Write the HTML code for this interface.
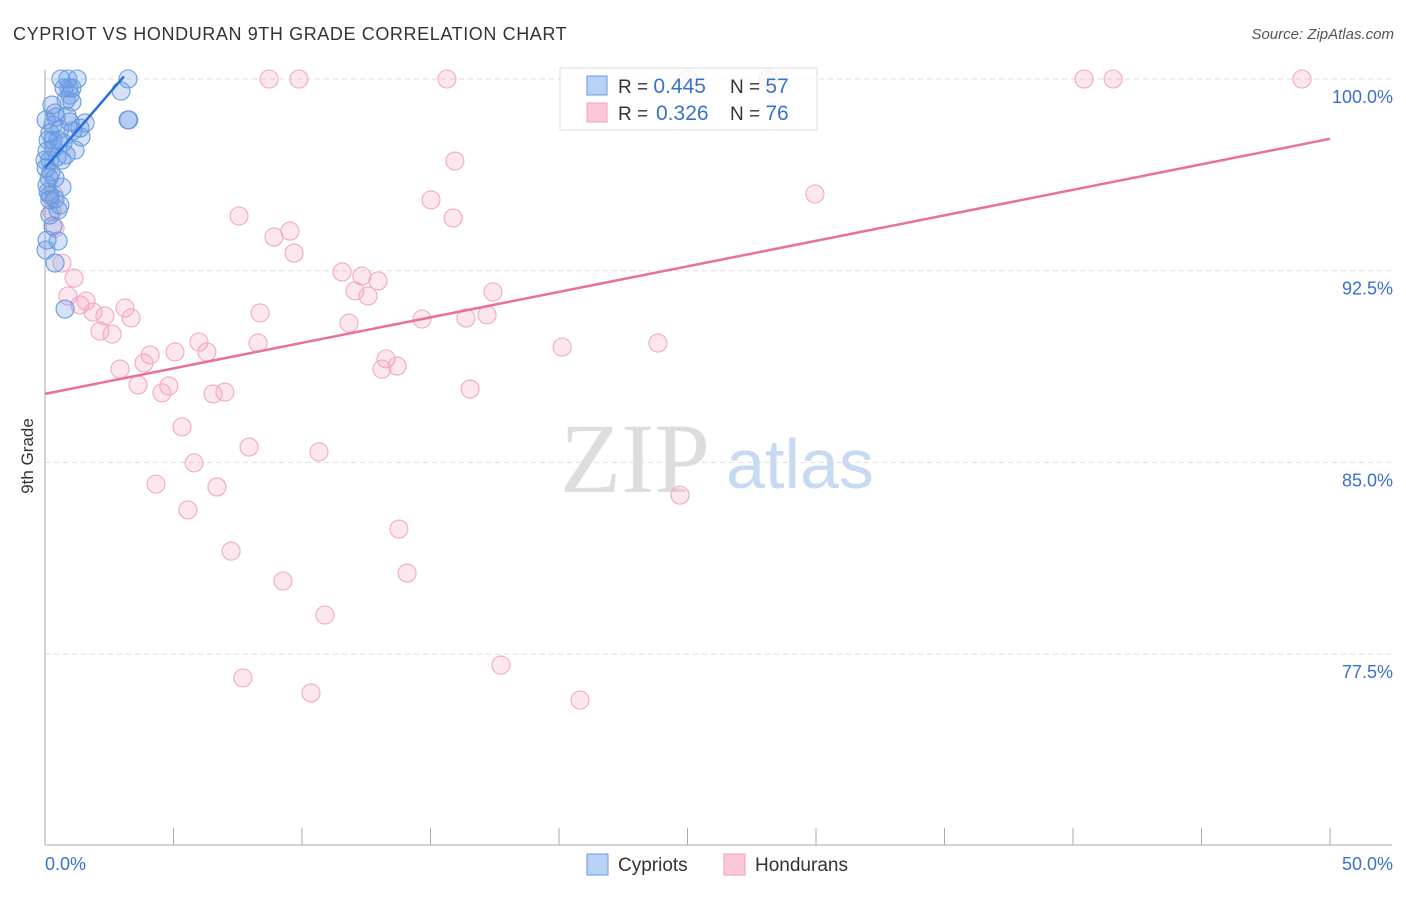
<!DOCTYPE html>
<html><head><meta charset="utf-8"><style>
body{margin:0;background:#fff;font-family:"Liberation Sans",sans-serif}
</style></head><body>
<svg id="chart" width="1406" height="892" xmlns="http://www.w3.org/2000/svg" font-family="Liberation Sans, sans-serif">
<text x="13" y="40" font-size="18" letter-spacing="0.6" fill="#333">CYPRIOT VS HONDURAN 9TH GRADE CORRELATION CHART</text>
<text x="1394" y="39" font-size="15" fill="#555" text-anchor="end" font-style="italic">Source: ZipAtlas.com</text>
<text transform="translate(33,456) rotate(-90)" font-size="17" fill="#333" text-anchor="middle">9th Grade</text>
<g>
<text x="635" y="492" font-size="100" fill="#ddd" text-anchor="middle" font-family="Liberation Serif, serif">ZIP</text>
<text x="800" y="488" font-size="70" fill="#c8daf2" text-anchor="middle">atlas</text>
</g>
<g id="grid"></g>
<g id="axes"></g>
<g id="pinkpts"></g>
<g id="bluepts"></g>
<g id="lines"></g>
<g>
<rect x="560" y="68" width="257" height="62" fill="#fff" fill-opacity="0.75" stroke="#ddd"/>
<rect x="587" y="76" width="20" height="19" fill="#b8d2f6" stroke="#6a9be0"/>
<rect x="587" y="103" width="20" height="19" fill="#fbc8d8" stroke="#f0a0bb"/>
<text x="618" y="93" font-size="19" fill="#333">R = <tspan fill="#3a70d0" font-size="21">0.445</tspan><tspan x="730">N = </tspan><tspan fill="#3a70d0" font-size="21">57</tspan></text>
<text x="618" y="120" font-size="19" fill="#333">R = <tspan x="656" fill="#3a70d0" font-size="21">0.326</tspan><tspan x="730">N = </tspan><tspan fill="#3a70d0" font-size="21">76</tspan></text>
</g>
<g>
<rect x="587" y="854" width="21" height="21" fill="#b8d2f6" stroke="#6a9be0"/>
<text x="618" y="871" font-size="19" fill="#333">Cypriots</text>
<rect x="724" y="854" width="21" height="21" fill="#fbc8d8" stroke="#f0a0bb"/>
<text x="755" y="871" font-size="19" fill="#333">Hondurans</text>
</g>
</svg>
<script>
const yTicks=[100,92.5,85,77.5];
const yTickLabels=["100.0%","92.5%","85.0%","77.5%"];
const xTickLabels=["0.0%","50.0%"];
const pinkX=[8.72,9.88,15.64,25.02,28.13,40.43,41.56,48.91,15.95,29.96,15.02,7.55,15.88,9.53,8.91,9.69,0.39,0.66,11.56,12.33,12.96,12.06,12.57,17.43,1.13,0.89,1.60,1.36,3.11,1.87,2.33,3.35,8.37,11.83,14.67,16.38,17.20,2.14,2.61,5.99,8.29,20.12,23.85,4.09,5.06,6.30,3.85,2.92,13.27,13.70,13.11,3.62,4.82,4.55,6.54,7.00,16.54,5.33,7.94,10.66,5.80,4.32,6.69,24.71,5.56,13.77,7.24,14.09,9.26,10.89,17.74,7.70,10.35,20.82,0.27,0.35];
const pinkY=[100,100,100,100,100,100,100,100,96.79,95.50,95.27,94.64,94.56,94.05,93.82,93.19,94.17,92.80,92.45,92.29,92.10,91.71,91.51,91.67,92.21,91.51,91.31,91.16,91.04,90.88,90.73,90.65,90.85,90.45,90.61,90.65,90.77,90.14,90.02,89.71,89.67,89.51,89.67,89.20,89.32,89.32,88.89,88.65,89.05,88.77,88.65,88.03,87.99,87.72,87.68,87.75,87.87,86.39,85.60,85.41,84.98,84.15,84.04,83.72,83.14,82.39,81.53,80.67,80.36,79.03,77.07,76.57,75.98,75.70,94.80,95.46];
const blueX=[0.62,0.89,1.25,3.23,0.74,1.05,0.93,2.96,0.97,1.05,0.39,0.86,0.97,1.56,3.23,0.31,0.58,1.09,1.40,0.19,0.31,0.51,0.70,0.08,0.35,0.82,0.19,0.47,0.66,0.04,0.23,0.16,0.39,0.08,0.66,0.19,0.39,0.58,0.19,0.51,0.19,0.08,0.51,0.04,0.39,0.78,0.12,0.27,0.04,1.17,0.12,0.31,0.82,1.36,0,0.43,3.26];
const blueY=[100,100,100,100,99.65,99.65,99.65,99.53,99.37,99.10,98.67,98.55,98.32,98.28,98.40,98.20,98.04,97.97,97.73,97.89,97.61,97.61,97.50,97.18,97.30,97.03,96.83,96.95,96.83,96.52,96.36,96.13,96.13,95.85,95.77,95.46,95.31,95.07,95.27,94.87,94.68,93.70,93.66,93.31,92.80,91.00,97.61,98.98,98.40,97.22,95.58,94.25,99.18,98.08,96.83,98.51,98.40];
const blueTrendX=[0,3.07], blueTrendY=[96.52,100.1];
const pinkTrendX=[0,50], pinkTrendY=[87.68,97.66];

const NS="http://www.w3.org/2000/svg";
const sx=v=>45+v*25.7;
const sy=v=>79+(100-v)*25.56;
function mk(tag,attrs,parent){const e=document.createElementNS(NS,tag);for(const k in attrs)e.setAttribute(k,attrs[k]);document.getElementById(parent).appendChild(e);return e;}
yTicks.forEach((t,i)=>{
  const g=mk('line',{x1:45,x2:1392,y1:sy(t),y2:sy(t),stroke:'#ddd','stroke-dasharray':'5,4'},'grid');
  
  
  const l=mk('text',{x:1393,y:sy(t)+24,'font-size':18,fill:'#3a70d0','text-anchor':'end'},'grid');
  l.textContent=yTickLabels[i];
  
  
});
const ax=mk('line',{x1:45,x2:45,y1:70,y2:845,stroke:'#aaa'},'axes');


const bx=mk('line',{x1:45,x2:1392,y1:845,y2:845,stroke:'#aaa'},'axes');


for(let i=0;i<=10;i++){
  const t=mk('line',{x1:sx(i*5),x2:sx(i*5),y1:828,y2:845,stroke:'#aaa'},'axes');
  
  
}
[[0,'start',45],[50,'end',1393]].forEach((d,i)=>{
  const l=mk('text',{x:d[2],y:870,'font-size':18,fill:'#3a70d0','text-anchor':d[1]},'axes');
  l.textContent=xTickLabels[i];
  
  
});
pinkX.forEach((x,i)=>{
  const c=mk('circle',{cx:sx(x),cy:sy(pinkY[i]),r:9,fill:'rgba(244,160,190,0.25)',stroke:'#f2a8c0','stroke-width':1.1},'pinkpts');
  
  
});
blueX.forEach((x,i)=>{
  const c=mk('circle',{cx:sx(x),cy:sy(blueY[i]),r:9,fill:'rgba(100,150,230,0.28)',stroke:'#6a9be0','stroke-width':1.1},'bluepts');
  
  
});
const pl=mk('line',{x1:sx(pinkTrendX[0]),y1:sy(pinkTrendY[0]),x2:sx(pinkTrendX[1]),y2:sy(pinkTrendY[1]),stroke:'#e8709a','stroke-width':2.5},'lines');


const bl=mk('line',{x1:sx(blueTrendX[0]),y1:sy(blueTrendY[0]),x2:sx(blueTrendX[1]),y2:sy(blueTrendY[1]),stroke:'#2a6fd8','stroke-width':2.5},'lines');


</script>
</body></html>
